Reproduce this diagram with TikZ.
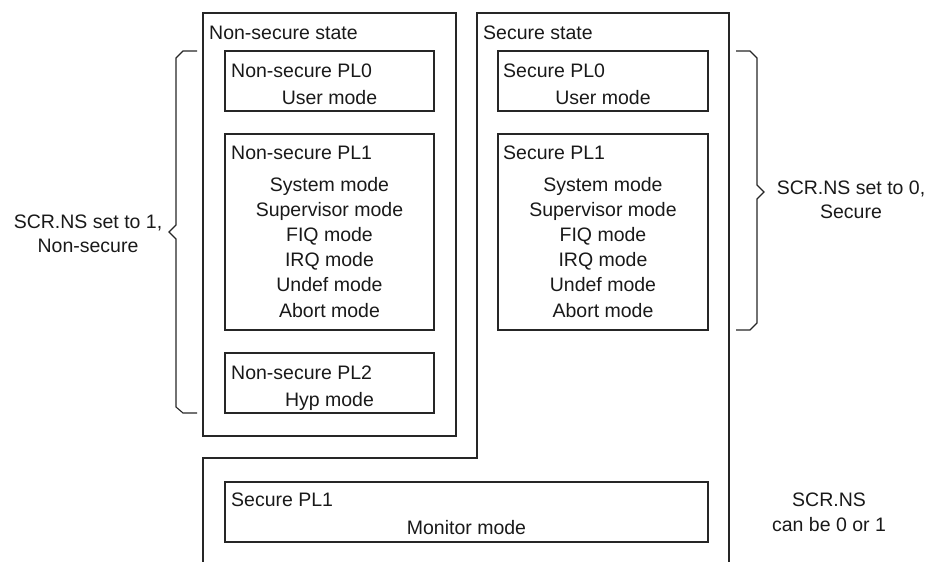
\documentclass[tikz,border=0pt]{standalone}
\usepackage{fontspec}
\setmainfont{Liberation Sans}
\begin{document}
\begin{tikzpicture}[x=1pt,y=-1pt,
  ln/.style={draw=black!85, line width=1.1pt},
  box/.style={ln, rectangle, inner sep=0pt, outer sep=0pt},
  txt/.style={inner sep=0pt, text height=14pt, text depth=0pt, font=\fontsize{19.5}{25}\selectfont, text=black!90},
  ttl/.style={txt, anchor=west}
]
\useasboundingbox (0,0) rectangle (934,562);
% outer state regions
\node[box, minimum width=253pt, minimum height=423pt] (nsstate) at (329.5,224.5) {};
\coordinate (s1) at (729,562);
\coordinate (s2) at (729,13);
\coordinate (s3) at (477,13);
\coordinate (s4) at (477,458);
\coordinate (s5) at (203,458);
\coordinate (s6) at (203,562);
\draw[ln] (s1) -- (s2) -- (s3) -- (s4) -- (s5) -- (s6);
\node[ttl] (nsstatet) at (209,32) {Non-secure state};
\node[ttl] (sstatet) at (483,32) {Secure state};
% inner boxes
\node[box, minimum width=209pt, minimum height=60pt] (nspl0) at (329.5,81) {};
\node[box, minimum width=209pt, minimum height=196pt] (nspl1) at (329.5,232) {};
\node[box, minimum width=209pt, minimum height=60pt] (nspl2) at (329.5,383) {};
\node[box, minimum width=210pt, minimum height=60pt] (spl0) at (603,81) {};
\node[box, minimum width=210pt, minimum height=196pt] (spl1) at (603,232) {};
\node[box, minimum width=483pt, minimum height=60pt] (mon) at (466.5,512) {};
% texts non-secure
\node[ttl] (nspl0t) at (231,70) {Non-secure PL0};
\node[txt] (nsusr) at (329.5,97) {User mode};
\node[ttl] (nspl1t) at (231,152) {Non-secure PL1};
\node[txt] (nssys) at (329.5,184) {System mode};
\node[txt] (nssvc) at (329.5,209) {Supervisor mode};
\node[txt] (nsfiq) at (329.5,234.5) {FIQ mode};
\node[txt] (nsirq) at (329.5,259.5) {IRQ mode};
\node[txt] (nsund) at (329.5,284.5) {Undef mode};
\node[txt] (nsabt) at (329.5,310) {Abort mode};
\node[ttl] (nspl2t) at (231,372) {Non-secure PL2};
\node[txt] (nshyp) at (329.5,399) {Hyp mode};
% texts secure
\node[ttl] (spl0t) at (503,70) {Secure PL0};
\node[txt] (susr) at (603,97) {User mode};
\node[ttl] (spl1t) at (503,152) {Secure PL1};
\node[txt] (ssys) at (603,184) {System mode};
\node[txt] (ssvc) at (603,209) {Supervisor mode};
\node[txt] (sfiq) at (603,234.5) {FIQ mode};
\node[txt] (sirq) at (603,259.5) {IRQ mode};
\node[txt] (sund) at (603,284.5) {Undef mode};
\node[txt] (sabt) at (603,310) {Abort mode};
% monitor
\node[ttl] (mont) at (231,499) {Secure PL1};
\node[txt] (monm) at (466.5,527) {Monitor mode};
% left brace
\draw[ln] (197,51) -- (183,51) -- (176,58) -- (176,225) -- (169,232) -- (176,239) -- (176,407) -- (183,413) -- (197,413);
\node[txt] (lbl1) at (88,221) {SCR.NS set to 1,};
\node[txt] (lbl2) at (88,245) {Non-secure};
% right brace
\draw[ln] (736,51) -- (750,51) -- (757,58) -- (757,185) -- (764,192) -- (757,199) -- (757,323) -- (750,330) -- (736,330);
\node[txt] (rbl1) at (851,187) {SCR.NS set to 0,};
\node[txt] (rbl2) at (851,211) {Secure};
% bottom right
\node[txt] (br1) at (829,499) {SCR.NS};
\node[txt] (br2) at (829,524) {can be 0 or 1};
\end{tikzpicture}
\end{document}
